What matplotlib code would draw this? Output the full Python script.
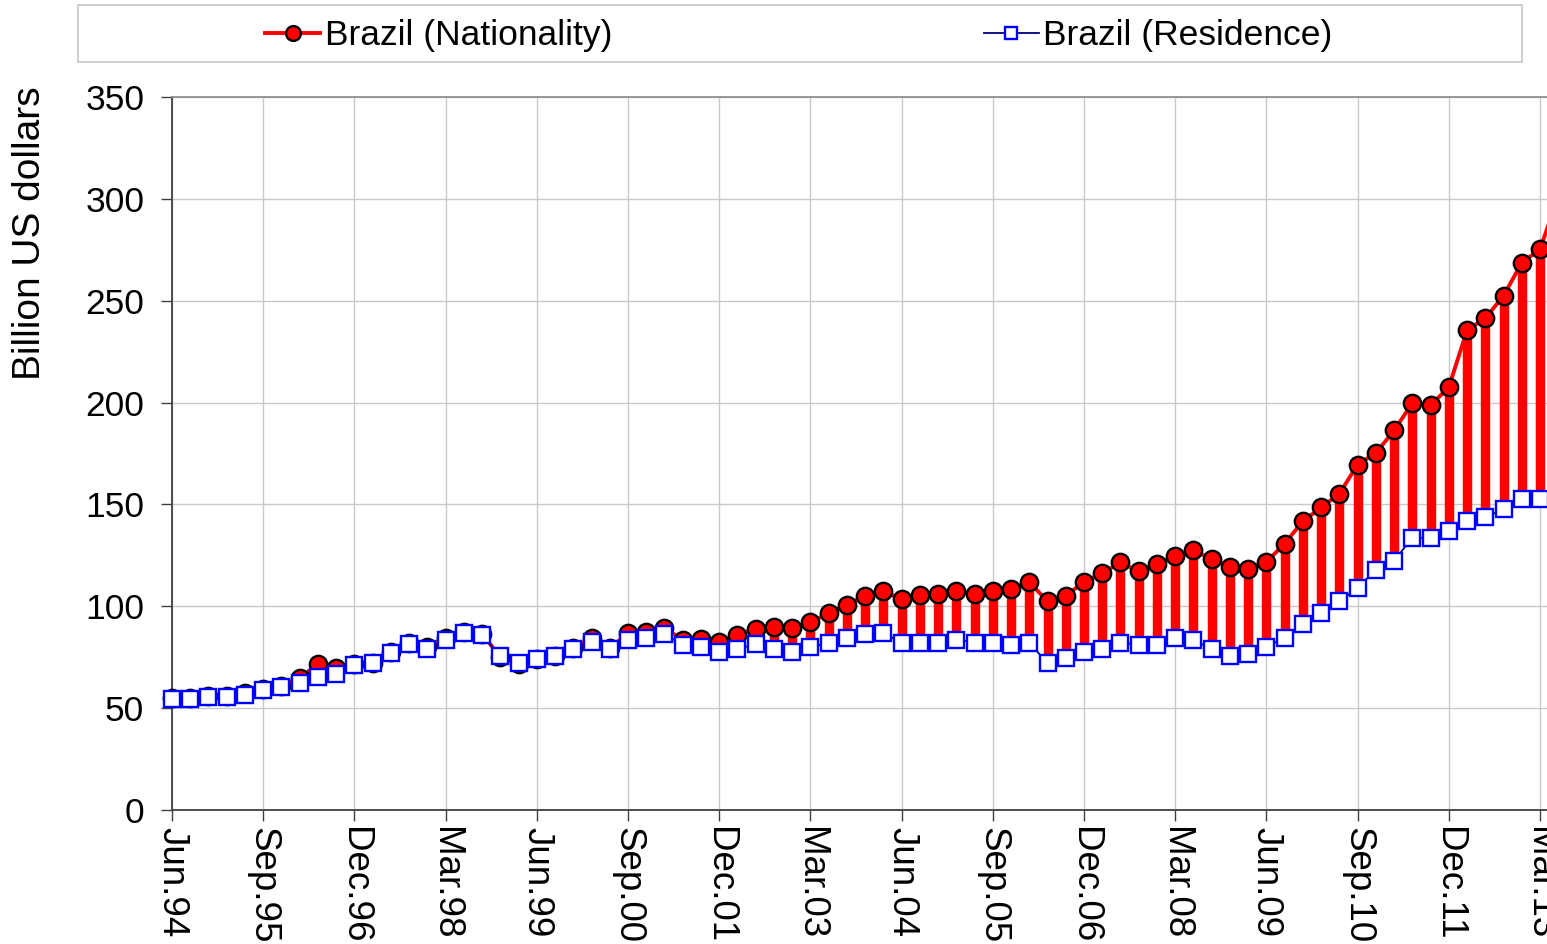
import matplotlib
matplotlib.use("Agg")
import matplotlib.pyplot as plt
from matplotlib.patches import Rectangle
import numpy as np

plt.rcParams['font.family'] = ['Liberation Sans', 'DejaVu Sans']

# Quarterly data, Jun.94 ... Jun.13
nationality = [
    55.0, 55.0, 56.2, 56.2, 57.2, 59.5, 61.0, 64.7, 71.8, 69.7, 71.8, 72.3, 77.5, 82.0, 80.0, 84.5, 87.5, 86.5, 75.0, 71.5, 74.2,
    75.5, 79.5, 84.4, 79.5, 86.8, 87.6, 89.2, 83.6, 83.9, 82.7, 86.0, 88.7, 90.0, 89.2, 92.1, 96.7, 100.8, 105.2, 107.3,
    103.6, 105.7, 106.2, 107.3, 106.2, 107.7, 108.7, 111.9, 102.4, 105.2, 111.9, 116.3, 121.5, 117.1, 120.7, 124.9, 127.4, 123.2, 119.5, 118.5, 121.7, 130.8,
    141.7, 148.5, 155.2, 169.6, 175.2, 186.3, 199.7, 198.7, 207.5, 235.5, 241.4, 252.4, 268.6, 275.3, 301.0,
]
residence = [
    54.4, 54.6, 55.7, 55.7, 56.5, 58.7, 60.6, 62.2, 65.5, 66.9, 71.3, 72.0, 77.0, 81.4, 78.9, 83.6, 86.9, 86.0, 75.4, 72.0, 74.0,
    75.7, 79.2, 82.4, 78.9, 83.6, 84.4, 86.5, 81.1, 79.8, 77.8, 78.9, 81.6, 78.9, 77.8, 79.8, 82.2, 84.4, 86.5, 86.8,
    82.2, 82.2, 82.2, 83.6, 82.2, 82.2, 81.1, 82.2, 72.0, 74.5, 77.8, 78.9, 82.2, 81.1, 81.1, 84.4, 83.6, 78.9, 75.7, 76.8, 80.2,
    84.6, 91.3, 96.7, 102.4, 109.0, 118.0, 122.4, 133.6, 133.6, 137.2, 141.7, 143.6, 147.7, 152.5, 152.5, 152.0,
]
tick_labels = ["Jun.94", "Sep.95", "Dec.96", "Mar.98", "Jun.99", "Sep.00", "Dec.01", "Mar.03",
               "Jun.04", "Sep.05", "Dec.06", "Mar.08", "Jun.09", "Sep.10", "Dec.11", "Mar.13"]
series_names = ["Brazil (Nationality)", "Brazil (Residence)"]

W, H = 1547, 944
fig = plt.figure(figsize=(W / 100, H / 100), dpi=100)
ax = fig.add_axes([172 / W, 1 - 810 / H, (W - 172) / W, (810 - 97) / H])

x = np.arange(len(nationality))
nat = np.array(nationality)
res = np.array(residence)

# high-low stems
ax.vlines(x, res, nat, colors='#FF0000', linewidth=6.8, zorder=2)

ax.plot(x, nat, color='#FF0000', linewidth=2.8, marker='o', markersize=12.5,
        markerfacecolor='#FF0000', markeredgecolor='black', markeredgewidth=1.7,
        label=series_names[0], zorder=4, clip_on=False)
ax.plot(x, res, color='#000080', linewidth=1.3, marker='s', markersize=11,
        markerfacecolor='white', markeredgecolor='#0000FF', markeredgewidth=1.7,
        label=series_names[1], zorder=5, clip_on=False)

ax.set_xlim(0, (W - 172) / 18.24)
ax.set_ylim(0, 350)
ax.set_yticks(np.arange(0, 351, 50))
ax.set_xticks(np.arange(0, 76, 5))
ax.set_xticklabels(tick_labels, rotation=-90)

ax.grid(True, color='#C8C8C8', linewidth=1.0)
ax.set_axisbelow(True)

for s in ['left', 'bottom']:
    ax.spines[s].set_color('#404040')
    ax.spines[s].set_linewidth(1.3)
ax.spines['top'].set_color('#909090')
ax.spines['top'].set_linewidth(1.3)
ax.spines['right'].set_visible(False)

ax.tick_params(axis='y', direction='out', length=8, width=1.0, color='#404040',
               labelsize=25.5, pad=12)
ax.tick_params(axis='x', direction='out', length=8, width=1.0, color='#404040',
               labelsize=26.5, pad=4)

fig.text(30 / W, 1 - 233 / H, "Billion US dollars", rotation=90, fontsize=28,
         ha='center', va='center')

# legend frame
fig.patches.append(Rectangle((78 / W, 1 - 62 / H), (1522 - 78) / W, 57 / H,
                             transform=fig.transFigure, fill=False,
                             edgecolor='#C8C8C8', linewidth=1.2))
handles, labels = ax.get_legend_handles_labels()
leg = fig.legend(handles, labels, loc='center', bbox_to_anchor=(799 / W, 1 - 36 / H),
                 ncol=2, frameon=False, fontsize=25.5, handlelength=1.55,
                 handletextpad=0.12, columnspacing=10.5, markerscale=0.85)

fig.savefig("out.png", dpi=100)
